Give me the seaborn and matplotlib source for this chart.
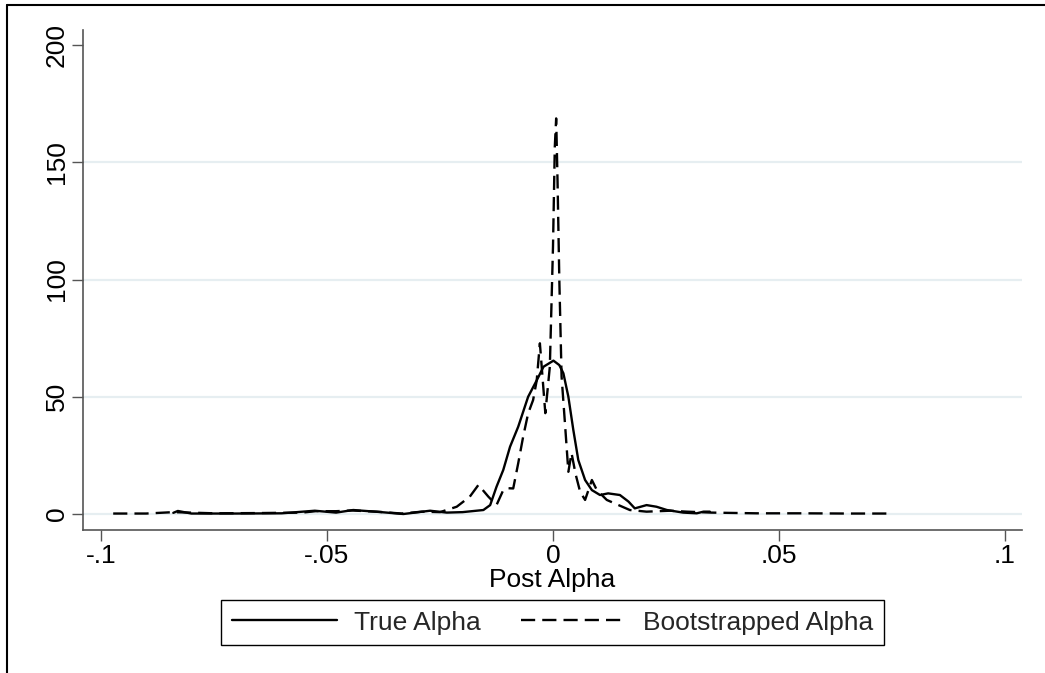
import matplotlib

matplotlib.use("Agg")
import matplotlib.pyplot as plt
import pandas as pd
import seaborn as sns
from matplotlib.lines import Line2D

# values (density of post alpha)
true_x = [-0.084, -0.083, -0.080, -0.070, -0.060, -0.0527, -0.048, -0.0442, -0.038, -0.0331,
          -0.0272, -0.0235, -0.020, -0.0154, -0.0139, -0.0125, -0.0110, -0.0095, -0.0077, -0.0055,
          -0.0036, -0.0021, 0.0001, 0.0014, 0.0023, 0.0034, 0.0045, 0.0056, 0.0071, 0.0086,
          0.0104, 0.0122, 0.0148, 0.0167, 0.0181, 0.0207, 0.0229, 0.0252, 0.0288, 0.0318,
          0.0333, 0.0347]
true_y = [0.5, 1.3, 0.2, 0.2, 0.3, 1.4, 0.6, 1.7, 0.8, 0.0,
          1.4, 0.6, 0.8, 1.7, 3.8, 11.6, 18.8, 28.7, 37.2, 50.0,
          57.0, 62.8, 65.4, 63.5, 60.0, 50.0, 35.8, 23.0, 14.5, 10.2,
          8.1, 8.8, 8.1, 5.3, 2.4, 3.8, 3.1, 1.7, 0.6, 0.3,
          1.0, 1.0]

boot_x = [-0.0973, -0.090, -0.084, -0.075, -0.065, -0.0555, -0.0525, -0.048, -0.0445, -0.039,
          -0.0335, -0.0290, -0.0250, -0.0213, -0.0184, -0.0165, -0.0143, -0.0125, -0.0110, -0.0100,
          -0.0088, -0.0077, -0.0066, -0.0055, -0.0044, -0.0036, -0.0029, -0.0017, -0.0007, 0.0,
          0.0004, 0.0007, 0.0010, 0.0014, 0.0019, 0.0027, 0.0034, 0.0041, 0.0050, 0.0060,
          0.0071, 0.0086, 0.0097, 0.0119, 0.0145, 0.0170, 0.0207, 0.0259, 0.0296, 0.035,
          0.045, 0.055, 0.065, 0.0749]
boot_y = [0.2, 0.2, 0.8, 0.3, 0.4, 0.6, 1.2, 1.2, 1.5, 1.0,
          0.2, 1.0, 0.8, 3.1, 7.4, 12.4, 7.4, 3.8, 10.2, 11.0,
          10.9, 21.6, 33.0, 42.9, 48.6, 57.0, 72.8, 43.0, 62.8, 114.0,
          156.6, 168.7, 142.4, 99.8, 58.6, 37.2, 18.0, 26.0, 17.0, 9.5,
          6.0, 14.5, 10.2, 6.0, 3.8, 1.7, 1.0, 1.4, 1.0, 0.6,
          0.3, 0.3, 0.2, 0.2]

series_names = ["True Alpha", "Bootstrapped Alpha"]
x_ticks = [-0.1, -0.05, 0, 0.05, 0.1]
x_tick_labels = ["-.1", "-.05", "0", ".05", ".1"]
y_ticks = [0, 50, 100, 150, 200]
y_tick_labels = ["0", "50", "100", "150", "200"]

df = pd.concat(
    [
        pd.DataFrame({"alpha": true_x, "density": true_y, "series": series_names[0]}),
        pd.DataFrame({"alpha": boot_x, "density": boot_y, "series": series_names[1]}),
    ],
    ignore_index=True,
)

sns.set_theme(style="white")
plt.rcParams["font.family"] = ["Liberation Sans", "DejaVu Sans"]

W, H = 1045, 673
FS = 19
fig = plt.figure(figsize=(W / 100, H / 100), dpi=100)
ax = fig.add_axes([83 / W, 1 - 530 / H, (1022 - 83) / W, (530 - 30) / H])

sns.lineplot(
    data=df, x="alpha", y="density",
    hue="series", style="series",
    hue_order=series_names, style_order=series_names,
    palette=["black", "black"],
    dashes={"True Alpha": "", "Bootstrapped Alpha": (6, 3)},
    sort=False, estimator=None, linewidth=1.7, legend=False, ax=ax,
)

ax.set_xlim(-0.10398, 0.10376)
ax.set_ylim(-6.82, 206.4)
ax.set_xticks(x_ticks, x_tick_labels)
ax.set_yticks(y_ticks, y_tick_labels)
ax.tick_params(axis="both", direction="out", length=8, width=1, color="#555555",
               labelsize=FS, labelcolor="black", pad=2, left=True, bottom=True)
for lab in ax.get_yticklabels():
    lab.set_rotation(90)
    lab.set_va("center")

sns.despine(ax=ax)
for side in ["left", "bottom"]:
    ax.spines[side].set_color("#555555")
    ax.spines[side].set_linewidth(1.2)

ax.set_axisbelow(True)
ax.yaxis.grid(True, color="#e6eef1", linewidth=1.6)
ax.xaxis.grid(False)
ax.get_ygridlines()[-1].set_visible(False)

ax.set_xlabel("Post Alpha", fontsize=FS, color="black", labelpad=0)
ax.set_ylabel("")

leg = fig.legend(
    handles=ax.lines[:2], labels=series_names,
    loc="upper center", bbox_to_anchor=(552.5 / W, 1 - 600 / H),
    ncol=2, fontsize=FS, frameon=True, fancybox=False, framealpha=1,
    edgecolor="black", handlelength=4.0, handletextpad=0.65,
    columnspacing=1.5, borderpad=0.4, borderaxespad=0,
)
leg.get_frame().set_linewidth(1.0)

# outer frame (left and top edges only, as cropped in the reference)
fig.add_artist(Line2D([7 / W, 7 / W], [0, 1 - 5 / H], transform=fig.transFigure, color="black", lw=1.5))
fig.add_artist(Line2D([7 / W, 1], [1 - 5 / H, 1 - 5 / H], transform=fig.transFigure, color="black", lw=1.5))

fig.savefig("out.png", dpi=100)
